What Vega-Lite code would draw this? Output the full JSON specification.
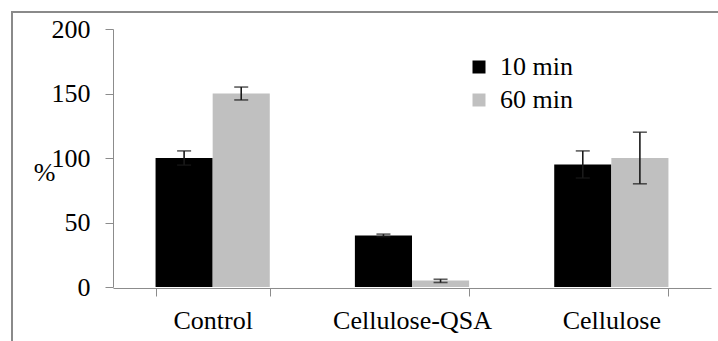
{
  "$schema": "https://vega.github.io/schema/vega-lite/v6.json",
  "autosize": "none",
  "padding": {"left": 12, "top": 12, "right": 0, "bottom": 0},
  "width": 706,
  "height": 329,
  "background": "white",
  "view": {"stroke": "#8a8a8a", "strokeWidth": 2, "strokeDash": [706, 1035, 329], "fill": null},
  "config": {
    "font": "Liberation Serif",
    "axis": {"grid": false, "domainColor": "#8c8c8c", "tickColor": "#8c8c8c", "tickSize": 8, "labelFont": "Liberation Serif", "labelFontSize": 26, "labelColor": "#000000", "titleFont": "Liberation Serif", "titleFontSize": 26, "titleFontWeight": "normal", "titleColor": "#000000"},
    "legend": {"labelFont": "Liberation Serif"}
  },
  "data": {
    "values": [
      {"category": "Control", "series": "10 min", "value": 100, "lo": 94.5, "hi": 105.5},
      {"category": "Control", "series": "60 min", "value": 150, "lo": 145, "hi": 155},
      {"category": "Cellulose-QSA", "series": "10 min", "value": 40, "lo": 39, "hi": 41},
      {"category": "Cellulose-QSA", "series": "60 min", "value": 5, "lo": 3.5, "hi": 6},
      {"category": "Cellulose", "series": "10 min", "value": 95, "lo": 84.5, "hi": 105.5},
      {"category": "Cellulose", "series": "60 min", "value": 100, "lo": 80, "hi": 120}
    ]
  },
  "encoding": {
    "x": {
      "field": "category",
      "type": "nominal",
      "sort": ["Control", "Cellulose-QSA", "Cellulose"],
      "scale": {"range": [101, 699], "paddingInner": 0.427, "paddingOuter": 0.2135},
      "axis": {"title": null, "labelAngle": 0, "tickBand": "extent", "labelPadding": 11, "offset": -53}
    },
    "xOffset": {
      "field": "series",
      "type": "nominal",
      "sort": ["10 min", "60 min"],
      "scale": {"paddingInner": 0, "paddingOuter": 0}
    }
  },
  "layer": [
    {
      "mark": {"type": "bar"},
      "encoding": {
        "y": {
          "field": "value",
          "type": "quantitative",
          "title": "%",
          "scale": {"domain": [0, 200], "nice": false, "range": [275, 17]},
          "axis": {"values": [0, 50, 100, 150, 200], "labelPadding": 15, "offset": -101, "titleAngle": 0, "titleAlign": "center", "titleBaseline": "middle", "titleX": -69, "titleY": 160}
        },
        "color": {
          "field": "series",
          "type": "nominal",
          "scale": {"domain": ["10 min", "60 min"], "range": ["#000000", "#c0c0c0"]},
          "legend": {"title": null, "orient": "none", "legendX": 454, "legendY": 42, "symbolType": "square", "symbolSize": 169, "symbolStrokeWidth": 0, "labelFontSize": 26, "labelColor": "#000000", "rowPadding": 7, "padding": 0, "labelOffset": 8}
        }
      }
    },
    {
      "mark": {"type": "rule", "color": "#1a1a1a", "strokeWidth": 1.6},
      "encoding": {
        "y": {"field": "lo", "type": "quantitative", "title": "%"},
        "y2": {"field": "hi"}
      }
    },
    {
      "mark": {"type": "tick", "color": "#1a1a1a", "thickness": 1.6, "size": 14},
      "encoding": {"y": {"field": "lo", "type": "quantitative", "title": "%"}}
    },
    {
      "mark": {"type": "tick", "color": "#1a1a1a", "thickness": 1.6, "size": 14},
      "encoding": {"y": {"field": "hi", "type": "quantitative", "title": "%"}}
    }
  ]
}
